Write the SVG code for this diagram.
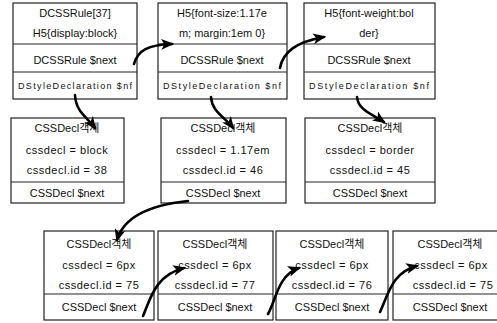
<svg xmlns="http://www.w3.org/2000/svg" width="497" height="323" viewBox="0 0 497 323">
<defs>
<style>
.box{fill:#fff;stroke:#222;stroke-width:1.2}
.div{stroke:#222;stroke-width:1}
.t{font-family:"Liberation Sans","Noto Sans CJK KR",sans-serif;font-size:11px;fill:#111;text-anchor:middle}
.v{font-family:"Liberation Sans","Noto Sans CJK KR",sans-serif;font-size:11px;fill:#111;text-anchor:middle;letter-spacing:0.5px}
.s{font-family:"Liberation Sans","Noto Sans CJK KR",sans-serif;font-size:9px;fill:#111;text-anchor:middle}
.c{fill:none;stroke:#000;stroke-width:2.6;stroke-linecap:round}
</style>
<marker id="ah" viewBox="0 0 12 10" refX="10" refY="5" markerWidth="13" markerHeight="11" markerUnits="userSpaceOnUse" orient="auto">
<path d="M0,0 L12,5 L0,10 L3,5 Z" fill="#000"/>
</marker>
</defs>
<rect width="497" height="323" fill="#fff"/>

<g id="rule1">
<rect class="box" x="13" y="3" width="124" height="96"/>
<line class="div" x1="13" y1="44" x2="137" y2="44"/>
<line class="div" x1="13" y1="72" x2="137" y2="72"/>
<text class="t" x="75" y="17">DCSSRule[37]</text>
<text class="t" x="75" y="37">H5{display:block}</text>
<text class="t" x="75" y="64">DCSSRule $next</text>
<text class="s" x="75" y="89" textLength="114" lengthAdjust="spacing">DStyleDeclaration $nf</text>
</g>

<g id="rule2">
<rect class="box" x="158" y="3" width="129" height="96"/>
<line class="div" x1="158" y1="44" x2="287" y2="44"/>
<line class="div" x1="158" y1="72" x2="287" y2="72"/>
<text class="t" x="222" y="17">H5{font-size:1.17e</text>
<text class="t" x="222" y="37">m; margin:1em 0}</text>
<text class="t" x="222" y="64">DCSSRule $next</text>
<text class="s" x="222" y="89" textLength="118" lengthAdjust="spacing">DStyleDeclaration $nf</text>
</g>

<g id="rule3">
<rect class="box" x="304" y="3" width="131" height="96"/>
<line class="div" x1="304" y1="44" x2="435" y2="44"/>
<line class="div" x1="304" y1="72" x2="435" y2="72"/>
<text class="t" x="369" y="17">H5{font-weight:bol</text>
<text class="t" x="369" y="37">der}</text>
<text class="t" x="369" y="64">DCSSRule $next</text>
<text class="s" x="369" y="89" textLength="120" lengthAdjust="spacing">DStyleDeclaration $nf</text>
</g>

<g id="decl1">
<rect class="box" x="11" y="118" width="113" height="85"/>
<line class="div" x1="11" y1="182" x2="124" y2="182"/>
<text class="t" x="67" y="132">CSSDecl객체</text>
<text class="v" x="67" y="154">cssdecl = block</text>
<text class="v" x="67" y="174">cssdecl.id = 38</text>
<text class="t" x="67" y="197">CSSDecl $next</text>
</g>

<g id="decl2">
<rect class="box" x="161" y="118" width="125" height="85"/>
<line class="div" x1="161" y1="182" x2="286" y2="182"/>
<text class="t" x="223" y="132">CSSDecl객체</text>
<text class="v" x="223" y="154">cssdecl = 1.17em</text>
<text class="v" x="223" y="174">cssdecl.id = 46</text>
<text class="t" x="223" y="197">CSSDecl $next</text>
</g>

<g id="decl3">
<rect class="box" x="305" y="118" width="130" height="85"/>
<line class="div" x1="305" y1="182" x2="435" y2="182"/>
<text class="t" x="370" y="132">CSSDecl객체</text>
<text class="v" x="370" y="154">cssdecl = border</text>
<text class="v" x="370" y="174">cssdecl.id = 45</text>
<text class="t" x="370" y="197">CSSDecl $next</text>
</g>

<g id="decl4">
<rect class="box" x="44" y="231" width="110" height="89"/>
<line class="div" x1="44" y1="294" x2="154" y2="294"/>
<text class="t" x="99" y="248">CSSDecl객체</text>
<text class="v" x="99" y="269">cssdecl = 6px</text>
<text class="v" x="99" y="289">cssdecl.id = 75</text>
<text class="t" x="99" y="311">CSSDecl $next</text>
</g>

<g id="decl5">
<rect class="box" x="158" y="231" width="115" height="89"/>
<line class="div" x1="158" y1="294" x2="273" y2="294"/>
<text class="t" x="215" y="248">CSSDecl객체</text>
<text class="v" x="215" y="269">cssdecl = 6px</text>
<text class="v" x="215" y="289">cssdecl.id = 77</text>
<text class="t" x="215" y="311">CSSDecl $next</text>
</g>

<g id="decl6">
<rect class="box" x="276" y="231" width="112" height="89"/>
<line class="div" x1="276" y1="294" x2="388" y2="294"/>
<text class="t" x="332" y="248">CSSDecl객체</text>
<text class="v" x="332" y="269">cssdecl = 6px</text>
<text class="v" x="332" y="289">cssdecl.id = 76</text>
<text class="t" x="332" y="311">CSSDecl $next</text>
</g>

<g id="decl7">
<rect class="box" x="393" y="231" width="110" height="89"/>
<line class="div" x1="393" y1="294" x2="503" y2="294"/>
<text class="t" x="450" y="248">CSSDecl객체</text>
<text class="v" x="451" y="269">cssdecl = 6px</text>
<text class="v" x="453" y="289">cssdecl.id = 75</text>
<text class="t" x="450" y="311">CSSDecl $next</text>
</g>

<g id="connectors">
<path class="c" d="M134,64 C138,50 148,45 172,44" marker-end="url(#ah)"/>
<path class="c" d="M280,68 C283,52 296,42 324,37" marker-end="url(#ah)"/>
<path class="c" d="M75,95 C76,112 86,116 95,128" marker-end="url(#ah)"/>
<path class="c" d="M211,97 C212,112 224,116 233,128" marker-end="url(#ah)"/>
<path class="c" d="M357,97 C358,110 372,114 384,122" marker-end="url(#ah)"/>
<path class="c" d="M188,201 C160,204 125,212 117,240" marker-end="url(#ah)"/>
<path class="c" d="M143,316 C150,300 155,275 184,268" marker-end="url(#ah)"/>
<path class="c" d="M268,314 C276,300 278,275 299,268" marker-end="url(#ah)"/>
<path class="c" d="M380,312 C388,295 392,272 417,266" marker-end="url(#ah)"/>
</g>
</svg>
